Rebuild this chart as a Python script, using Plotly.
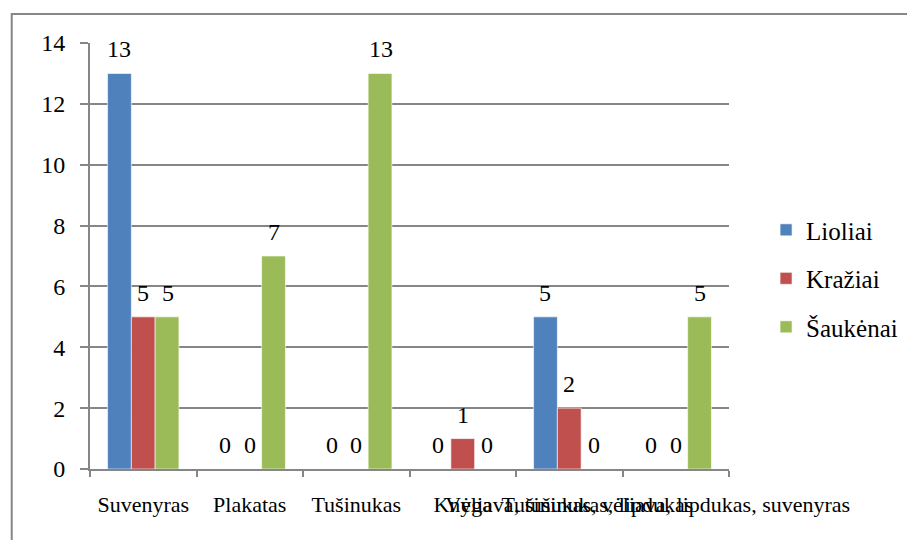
import plotly.graph_objects as go

categories = ["Suvenyras", "Plakatas", "Tušinukas", "Knyga",
              "Vėliava, tušinukas, lipdukas",
              "Tušinukas, vėliava, lipdukas, suvenyras"]
series_names = ["Lioliai", "Kražiai", "Šaukėnai"]
lioliai = [13, 0, 0, 0, 5, 0]
kraziai = [5, 0, 0, 1, 2, 0]
saukenai = [5, 7, 13, 0, 0, 5]
y_ticks = [0, 2, 4, 6, 8, 10, 12, 14]

colors = ["#4F81BD", "#C0504D", "#9BBB59"]
FONT = "Times New Roman"

# figure is drawn inside an 8px page margin
W, H = 907, 532
ML, MT, MR, MB = 82, 35, 172, 71
BARGAP = 0.33
plot_w = W - ML - MR
bar_px = plot_w / len(categories) * (1 - BARGAP) / len(series_names)

fig = go.Figure()
annotations = []
all_series = [lioliai, kraziai, saukenai]
for k, (name, vals, col) in enumerate(zip(series_names, all_series, colors)):
    fig.add_trace(go.Bar(
        x=categories, y=vals, name=name, legendgroup=name,
        marker=dict(color=col, line=dict(color="rgba(255,255,255,0.6)", width=1)),
    ))
    for c, v in zip(categories, vals):
        annotations.append(dict(
            x=c, y=v, xref="x", yref="y", text=str(v), showarrow=False,
            xanchor="center", yanchor="bottom",
            xshift=(k - 1) * bar_px, yshift=9,
            font=dict(family=FONT, size=24, color="black"),
        ))

fig.update_layout(
    width=W, height=H,
    margin=dict(l=ML, r=MR, t=MT, b=MB),
    paper_bgcolor="white", plot_bgcolor="white",
    barmode="group", bargap=BARGAP, bargroupgap=0,
    font=dict(family=FONT, size=22, color="black"),
    showlegend=True,
    legend=dict(x=1.058, xanchor="left", y=0.447, yanchor="middle",
                font=dict(family=FONT, size=25, color="black"),
                tracegroupgap=13, itemwidth=30, bgcolor="rgba(0,0,0,0)"),
    annotations=annotations,
    shapes=[dict(type="rect", xref="paper", yref="paper",
                 x0=(2 - ML) / plot_w, x1=1.5,
                 y0=-0.4, y1=(H - MB - 6) / (H - MT - MB),
                 line=dict(color="#868686", width=2), fillcolor="rgba(0,0,0,0)",
                 layer="below")],
)
fig.update_xaxes(
    type="category", tickangle=0, showgrid=False,
    showline=True, linecolor="#868686", linewidth=2,
    ticks="outside", tickson="boundaries", ticklen=6, tickcolor="#868686", tickwidth=2,
    ticklabelstandoff=15,
    tickfont=dict(family=FONT, size=22, color="black"),
    automargin=False,
)
fig.update_yaxes(
    range=[0, 14], tickvals=y_ticks, showgrid=True, gridcolor="#868686", gridwidth=2,
    showline=True, linecolor="#868686", linewidth=2, zeroline=False,
    ticks="outside", ticklen=8, tickcolor="#868686", tickwidth=2,
    ticklabelstandoff=10,
    tickfont=dict(family=FONT, size=24, color="black"),
    automargin=False,
)

fig.write_html("out.html")
